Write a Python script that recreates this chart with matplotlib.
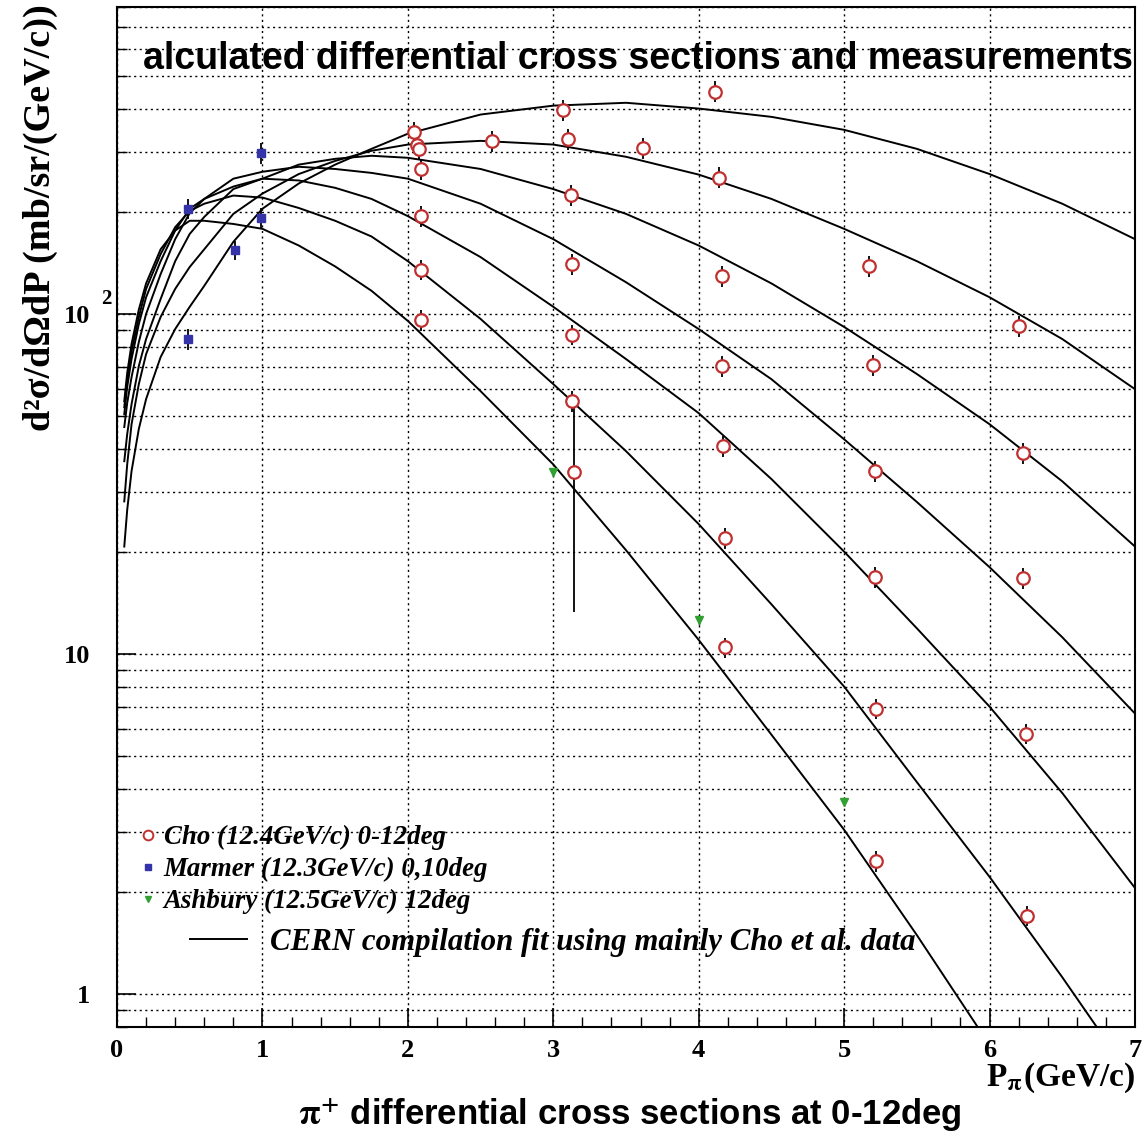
import matplotlib
matplotlib.use("Agg")
import matplotlib.pyplot as plt
from matplotlib.lines import Line2D
from matplotlib.ticker import FixedLocator, MultipleLocator, LogLocator, NullFormatter

plt.rcParams['mathtext.fontset'] = 'stix'
plt.rcParams['font.family'] = ['Liberation Serif', 'DejaVu Serif']
plt.rcParams['font.weight'] = 'bold'

# Cho et al. data points (momentum GeV/c, cross section mb/sr/(GeV/c))
cho_p = [2.04, 2.06, 2.08, 2.09, 2.09, 2.09, 2.09, 2.58, 3.07, 3.10, 3.12, 3.13,
         3.13, 3.13, 3.14, 3.62, 4.11, 4.14, 4.16, 4.16, 4.17, 4.18, 4.18,
         5.17, 5.20, 5.21, 5.21, 5.22, 5.22, 6.20, 6.23, 6.23, 6.25, 6.26]
cho_xs = [344, 315, 306, 267, 194, 135, 96, 323, 398, 326, 224, 140,
          86.9, 55.4, 34.3, 308, 451, 252, 129, 70.3, 40.9, 21.9, 10.45,
          138, 70.9, 34.5, 16.8, 6.9, 2.46, 92.2, 39.0, 16.7, 5.83, 1.70]
cho_err = [24, 22, 21, 19, 14, 9.5, 6.7, 23, 28, 23, 16, 10,
           6.1, 3.9, 21, 22, 32, 18, 9, 4.9, 2.9, 1.5, 0.73,
           9.7, 5.0, 2.4, 1.2, 0.48, 0.17, 6.5, 2.7, 1.2, 0.41, 0.12]

# Marmer data
marmer_p = [0.49, 0.99, 0.99, 0.81, 0.49]
marmer_xs = [204, 298, 192, 154, 84.4]
marmer_err = [14, 21, 13, 10, 6]

# Ashbury data
ashbury_p = [3.0, 4.0, 5.0]
ashbury_xs = [34.3, 12.6, 3.68]
ashbury_err = [1.0, 0.4, 0.12]

# CERN compilation fit curves, read at these momenta
fit_p = [0.05, 0.07, 0.1, 0.15, 0.2, 0.3, 0.4, 0.5, 0.6, 0.8, 1.0, 1.25, 1.5, 1.75,
         2.0, 2.5, 3.0, 3.5, 4.0, 4.5, 5.0, 5.5, 6.0, 6.5, 7.0]
curve1 = [20.7, 26.5, 34.5, 45.9, 56.2, 74.7, 90.3, 105, 121, 163, 204, 242, 275, 306,
          339, 386, 410, 418, 402, 380, 348, 306, 258, 211, 166]
curve2 = [28.1, 36.1, 47.4, 62.2, 76.2, 98.0, 118.5, 137.5, 155, 197, 226, 258, 282, 302,
          315, 323, 315, 290, 257, 218, 178, 143, 112, 84.4, 60.1]
curve3 = [36.9, 44.3, 54.3, 70.3, 84.4, 110.7, 143, 172, 193, 233, 250, 275, 286, 292,
          288, 267, 233, 197, 159, 123, 91.6, 66.6, 47.4, 32.2, 20.7]
curve4 = [46.5, 54.7, 65.2, 82.7, 100, 131, 166, 198, 218, 250, 262, 271, 267, 260,
          250, 211, 166, 124, 90.3, 64.3, 42.8, 28.0, 18.0, 11.2, 6.68]
curve5 = [50.8, 61.0, 73.7, 93.4, 112, 143, 176, 204, 218, 237, 250, 247, 235, 218,
          194, 147, 105, 73.7, 51.1, 32.7, 20.0, 11.9, 7.0, 3.9, 2.05]
curve6 = [53.2, 64.3, 77.8, 98.0, 118.5, 150, 180, 201, 211, 223, 220, 205, 188, 169,
          143, 96.7, 62.2, 39.5, 24.1, 14.0, 8.02, 4.20, 2.21, 1.12, 0.55]
curve7 = [55.4, 67.0, 81.6, 103, 123, 155, 176, 188, 188, 184, 178, 159, 138, 117,
          95.4, 59.3, 36.1, 20.2, 11.0, 5.79, 3.04, 1.49, 0.708, 0.324, 0.149]
curves = [curve1, curve2, curve3, curve4, curve5, curve6, curve7]

cho_color = '#c03030'
marmer_color = '#3434a8'
ashbury_color = '#30a030'

fig = plt.figure(figsize=(11.46, 11.37), dpi=100)
ax = fig.add_axes([0.1021, 0.0968, 0.8883, 0.8971])

for c in curves:
    ax.plot(fit_p, c, color='black', lw=1.4, zorder=3)

ax.errorbar(cho_p, cho_xs, yerr=cho_err, fmt='o', ms=9, mfc='white', mec=cho_color,
            mew=1.6, ecolor='black', elinewidth=1.3, capsize=0, zorder=5)
ax.errorbar(marmer_p, marmer_xs, yerr=marmer_err, fmt='s', ms=6, mfc=marmer_color,
            mec=marmer_color, ecolor='black', elinewidth=1.3, capsize=0, zorder=5)
ax.errorbar(ashbury_p, ashbury_xs, yerr=ashbury_err, fmt='v', ms=6, mfc=ashbury_color,
            mec=ashbury_color, ecolor='black', elinewidth=1.0, capsize=0, zorder=5)

ax.set_yscale('log')
ax.set_xlim(0, 7)
ax.set_ylim(0.8, 800)

# ticks
ax.xaxis.set_major_locator(MultipleLocator(1))
ax.xaxis.set_minor_locator(MultipleLocator(0.2))
ax.yaxis.set_major_locator(FixedLocator([1, 10, 100]))
ax.yaxis.set_minor_locator(LogLocator(base=10, subs=range(2, 10)))
ax.yaxis.set_minor_formatter(NullFormatter())
ax.set_yticklabels(['1', '10', '10'])
# exponent of the 10^2 label, ROOT style
ax.text(-0.0160, 111, '2', transform=ax.get_yaxis_transform(), size=15,
        ha='left', va='center')
ax.tick_params(which='major', direction='in', length=14, width=1.2, labelsize=19,
               top=False, right=False)
ax.tick_params(which='minor', direction='in', length=7, width=1.0, top=False, right=False)
ax.tick_params(axis='x', pad=9)
ax.tick_params(axis='y', pad=19)

# dotted grid
grid_style = dict(color='black', linestyle=(0, (1.5, 2.5)), linewidth=1.0)
ax.grid(True, which='major', axis='x', **grid_style)
ax.grid(True, which='both', axis='y', **grid_style)
ax.set_axisbelow(True)
for s in ax.spines.values():
    s.set_linewidth(1.5)

# legend
leg_font = {'family': 'Liberation Serif', 'weight': 'bold', 'style': 'italic', 'size': 19.4}
fit_font = {'family': 'Liberation Serif', 'weight': 'bold', 'style': 'italic', 'size': 22.2}
h_cho = Line2D([], [], ls='none', marker='o', ms=7, mfc='white', mec=cho_color, mew=1.4)
h_marmer = Line2D([], [], ls='none', marker='s', ms=5, mfc=marmer_color, mec=marmer_color)
h_ashbury = Line2D([], [], ls='none', marker='v', ms=5, mfc=ashbury_color, mec=ashbury_color)
leg1 = ax.legend([h_cho, h_marmer, h_ashbury],
                 ['Cho (12.4GeV/c) 0-12deg', 'Marmer (12.3GeV/c) 0,10deg',
                  'Ashbury (12.5GeV/c) 12deg'],
                 loc='upper left', bbox_to_anchor=(0.1204, 1 - 825 / 1137),
                 bbox_transform=fig.transFigure, frameon=False, prop=leg_font,
                 handlelength=0.75, handletextpad=0.2, borderpad=0, borderaxespad=0,
                 labelspacing=0.26)
ax.add_artist(leg1)
h_fit = Line2D([], [], color='black', lw=1.4)
ax.legend([h_fit], ['CERN compilation fit using mainly Cho et al. data'],
          loc='upper left', bbox_to_anchor=(0.1658, 1 - 928 / 1137),
          bbox_transform=fig.transFigure, frameon=False, prop=fit_font,
          handlelength=1.85, handletextpad=0.75, borderpad=0, borderaxespad=0)

# texts
fig.text(143 / 1146, 1 - 59 / 1137, 'alculated differential cross sections and measurements',
         family=['Liberation Sans', 'DejaVu Sans'], weight='bold', size=27,
         ha='left', va='center')
fig.text(630 / 1146, 1 - 1115 / 1137,
         r'$\mathrm{\pi}^{\mathbf{+}}$ differential cross sections at 0-12deg',
         family=['Liberation Sans', 'DejaVu Sans'], weight='bold', size=25,
         ha='center', va='center')
fig.text(1135 / 1146, 1 - 1078 / 1137, r'P$_{\mathrm{\pi}}$(GeV/c)',
         weight='bold', size=24, ha='right', va='center')
fig.text(40 / 1146, 1 - 4 / 1137, 'd²σ/dΩdP (mb/sr/(GeV/c))',
         weight='bold', size=27.5, rotation=90, ha='center', va='top')

fig.savefig('out.png', dpi=100)
